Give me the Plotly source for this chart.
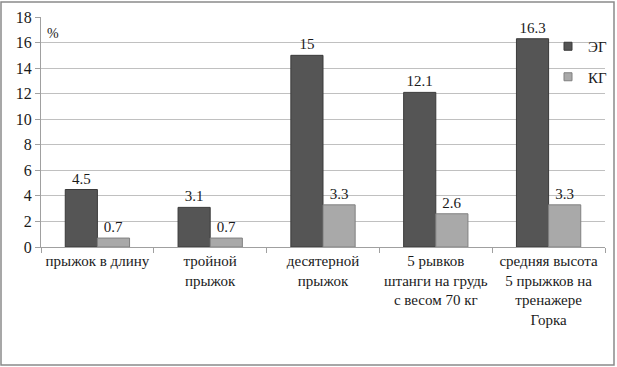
import plotly.graph_objects as go

categories = [
    "прыжок в длину",
    "тройной<br>прыжок",
    "десятерной<br>прыжок",
    "5 рывков<br>штанги на грудь<br>с весом 70 кг",
    "средняя высота<br>5 прыжков на<br>тренажере<br>Горка",
]
eg_values = [4.5, 3.1, 15, 12.1, 16.3]
kg_values = [0.7, 0.7, 3.3, 2.6, 3.3]
eg_labels = ["4.5", "3.1", "15", "12.1", "16.3"]
kg_labels = ["0.7", "0.7", "3.3", "2.6", "3.3"]
y_ticks = [0, 2, 4, 6, 8, 10, 12, 14, 16, 18]

FONT = "Times New Roman"
EG_COLOR = "#555555"
KG_COLOR = "#a9a9a9"
TXT = "#1a1a1a"

fig = go.Figure()
fig.add_trace(go.Bar(
    x=categories, y=eg_values, name="ЭГ", text=eg_labels,
    textposition="outside", cliponaxis=False, showlegend=False,
    marker=dict(color=EG_COLOR, line=dict(color="#3a3a3a", width=1)),
    textfont=dict(family=FONT, size=15, color=TXT),
    outsidetextfont=dict(family=FONT, size=15, color=TXT),
))
fig.add_trace(go.Bar(
    x=categories, y=kg_values, name="КГ", text=kg_labels,
    textposition="outside", cliponaxis=False, showlegend=False,
    marker=dict(color=KG_COLOR, line=dict(color="#808080", width=1)),
    textfont=dict(family=FONT, size=15, color=TXT),
    outsidetextfont=dict(family=FONT, size=15, color=TXT),
))
# legend entries with small square markers
fig.add_trace(go.Scatter(x=[None], y=[None], mode="markers", name="ЭГ",
                         marker=dict(symbol="square", size=8, color=EG_COLOR,
                                     line=dict(color="#3a3a3a", width=1)),
                         legendgroup="a"))
fig.add_trace(go.Scatter(x=[None], y=[None], mode="markers", name="КГ",
                         marker=dict(symbol="square", size=8, color=KG_COLOR,
                                     line=dict(color="#808080", width=1)),
                         legendgroup="b"))

W, H = 617, 367
L, R, T, B = 41, 12, 17, 120
pw = W - L - R
ph = H - T - B

def px(x):
    return (x - L) / pw

def py(y):
    return (H - B - y) / ph

fig.update_layout(
    width=W, height=H,
    margin=dict(l=L, r=R, t=T, b=B, autoexpand=False),
    paper_bgcolor="white", plot_bgcolor="white",
    barmode="group", bargap=0.43, bargroupgap=0,
    showlegend=True,
    legend=dict(x=px(548), y=py(30), xanchor="left", yanchor="top",
                bgcolor="rgba(0,0,0,0)",
                font=dict(family=FONT, size=15, color=TXT),
                tracegroupgap=8, itemwidth=30, itemsizing="trace"),
    xaxis=dict(
        type="category", showline=True, linecolor="#a0a0a0", linewidth=1,
        ticks="outside", tickson="boundaries", ticklen=5, tickcolor="#a0a0a0",
        showgrid=False, tickfont=dict(family=FONT, size=15, color=TXT),
        tickangle=0, automargin=False,
    ),
    yaxis=dict(
        range=[0, 18], tickvals=y_ticks, showline=True, linecolor="#a0a0a0",
        linewidth=1, ticks="outside", ticklen=5, tickcolor="#a0a0a0",
        showgrid=True, gridcolor="#c0c0c0", gridwidth=1,
        tickfont=dict(family=FONT, size=16, color=TXT), zeroline=False,
        automargin=False,
    ),
    shapes=[dict(
        type="rect", xref="paper", yref="paper",
        x0=px(1), x1=px(614), y0=py(365), y1=py(2),
        line=dict(color="#8a8a8a", width=1.5), fillcolor="rgba(0,0,0,0)",
        layer="below",
    )],
    annotations=[dict(
        text="%", xref="paper", yref="paper", x=px(45), y=py(24),
        xanchor="left", yanchor="top", showarrow=False,
        font=dict(family=FONT, size=14, color=TXT),
    )],
)

fig.write_html(
    "out.html", config={"displayModeBar": False},
    post_script="document.body.style.margin='0';"
                "document.body.style.overflow='hidden';"
                "document.documentElement.style.overflow='hidden';",
)
